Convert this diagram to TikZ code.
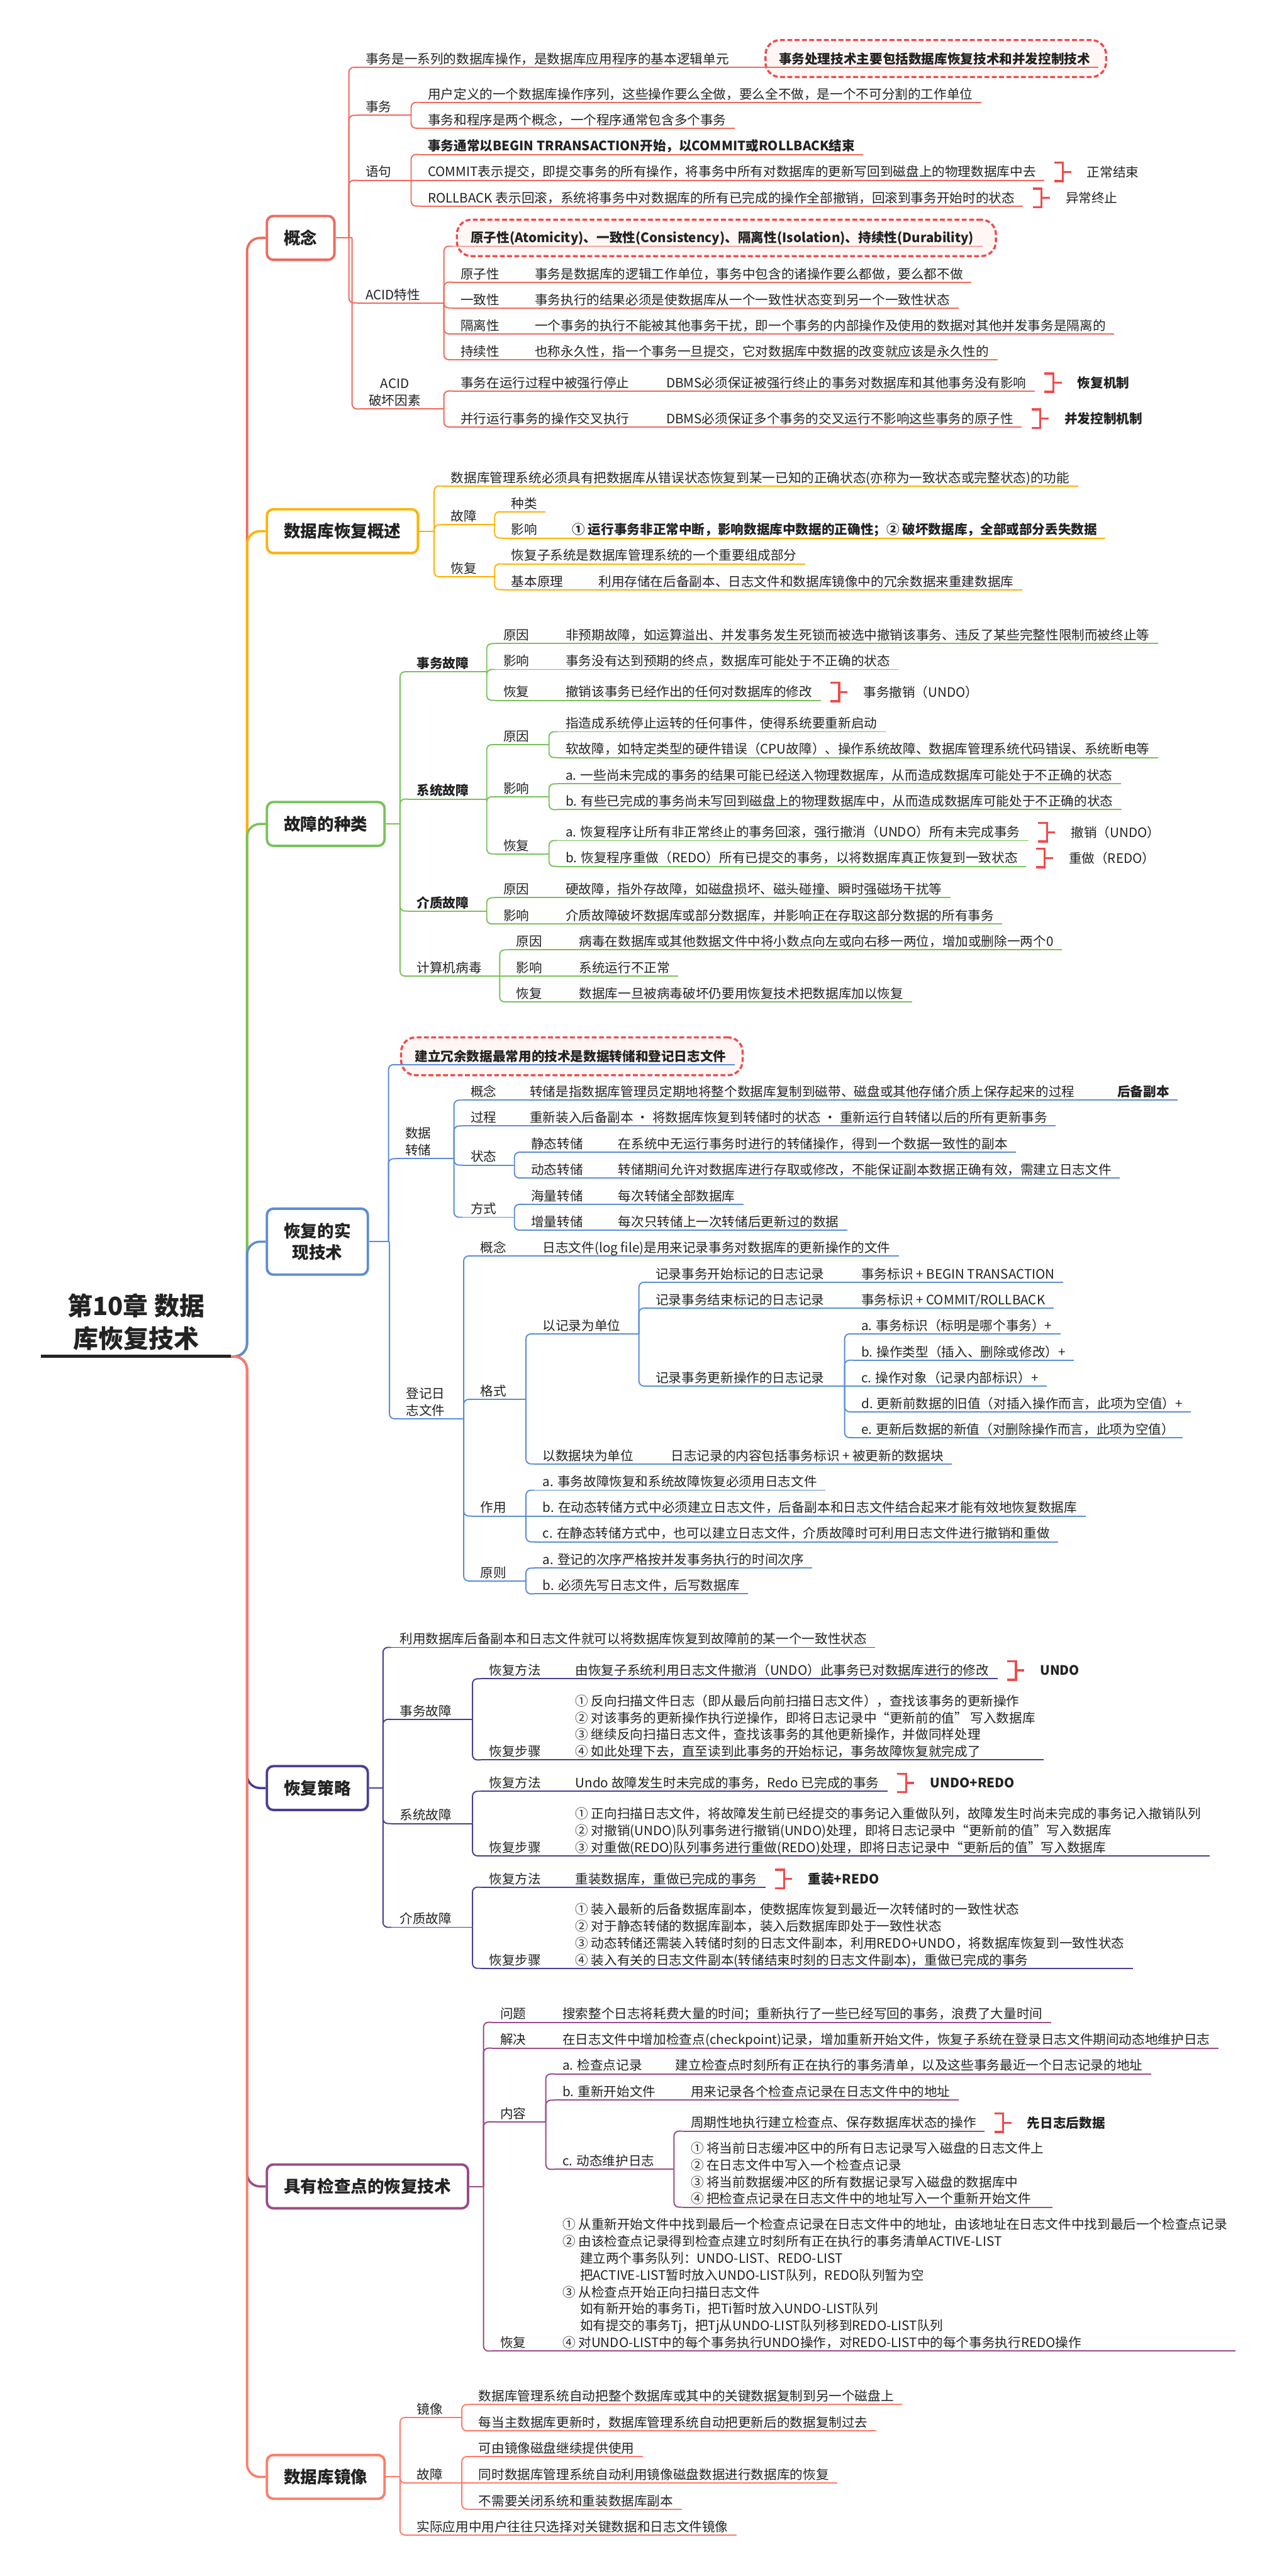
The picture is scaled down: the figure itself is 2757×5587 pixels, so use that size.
\documentclass[tikz,border=0pt]{standalone}
\usepackage{fontspec}
\setmainfont{Noto Sans CJK SC}
\usetikzlibrary{calc}
\definecolor{gai}{HTML}{F2685C}
\definecolor{gsh}{HTML}{FFB100}
\definecolor{zhong}{HTML}{77C35A}
\definecolor{shi}{HTML}{5A8DD8}
\definecolor{ce}{HTML}{4A3D95}
\definecolor{jian}{HTML}{9A4A8A}
\definecolor{jing}{HTML}{FF7B68}
\definecolor{mark}{HTML}{F2494A}
\definecolor{notefill}{HTML}{FFF6F5}
\definecolor{ink}{HTML}{222222}

\newcommand\branchto[3]{%
  \draw[draw=#1, line width=0.75pt] (#2) -- ($(#3.south west |- #2)+(-18,0)$);
  \draw[draw=#1, line width=0.75pt, rounded corners=3pt] ($(#3.south west |- #2)+(-18,0)$) |- (#3.south west);}
\newcommand\jointo[3]{\draw[draw=#1, line width=0.75pt] (#2.south east) -- (#3.south west);}
\newcommand\bracenote[3]{%
  \draw[brk] ($(#1.south east)+(21,-38)$) -- ++(19,0) -- ++(0,40) -- ++(-19,0);
  \node[blabel] (#2) at ($(#1.south east)+(58,-18)$) {#3};
  \draw[brk] ($(#1.south east)+(40,-18)$) -- (#2.west);}

\begin{document}
\begin{tikzpicture}[x=0.01cm, y=-0.01cm, font=\fontsize{8}{10.4}\selectfont, text=ink,
    item/.style={anchor=south west, xshift=-5pt, inner xsep=5pt, inner ysep=2pt, text depth=0pt, align=left,
      append after command={(\tikzlastnode.south west) edge[draw=#1, line width=0.75pt] (\tikzlastnode.south east)}},
    strong/.style={font=\fontsize{8}{10.4}\selectfont\bfseries},
    topic/.style={draw=#1, line width=1.5pt, rounded corners=4pt, fill=white, anchor=west, align=center,
      inner xsep=0.37cm, minimum height=0.95cm, font=\fontsize{10.3}{13}\selectfont\bfseries},
    note/.style={draw=mark, line width=1.3pt, dash pattern=on 3pt off 1.5pt, rounded corners=9pt, fill=notefill},
    brk/.style={draw=mark, line width=1.3pt},
    blabel/.style={anchor=west, inner xsep=9.6pt, inner ysep=0pt},
    rootnode/.style={anchor=south west, minimum width=4.1cm, align=center, inner ysep=5pt, text depth=0pt,
      font=\fontsize{15.5}{20}\selectfont\bfseries,
      append after command={(\tikzlastnode.south west) edge[draw=ink, line width=2pt] (\tikzlastnode.south east)}}]
  \fill[white] (0,0) rectangle (2757,5587);
  \useasboundingbox (0,0) rectangle (2757,5587);

  \node[rootnode] (root) at (89,2942) {第10章 数据\\库恢复技术};

  % 概念
  \node[topic=gai] (gn) at (576,516) {概念};
  \node[note, minimum width=7.38cm, minimum height=0.8cm] (gnb) at (2029,127) {};
  \node[item=gai] (gn1) at (792,146) {事务是一系列的数据库操作，是数据库应用程序的基本逻辑单元};
  \node[item=gai, strong] (gn1a) at (1688,146) {事务处理技术主要包括数据库恢复技术和并发控制技术};
  \node[item=gai] (gn2) at (792,250) {事务};
  \node[item=gai] (gn21) at (927,222) {用户定义的一个数据库操作序列，这些操作要么全做，要么全不做，是一个不可分割的工作单位};
  \node[item=gai] (gn22) at (927,278) {事务和程序是两个概念，一个程序通常包含多个事务};
  \node[item=gai] (gn3) at (792,391) {语句};
  \node[item=gai, strong] (gn31) at (927,335) {事务通常以BEGIN TRRANSACTION开始，以COMMIT或ROLLBACK结束};
  \node[item=gai] (gn32) at (927,391) {COMMIT表示提交，即提交事务的所有操作，将事务中所有对数据库的更新写回到磁盘上的物理数据库中去};
  \node[item=gai] (gn33) at (927,447) {ROLLBACK 表示回滚，系统将事务中对数据库的所有已完成的操作全部撤销，回滚到事务开始时的状态};
  \node[item=gai] (gn4) at (792,657) {ACID特性};
  \node[note, minimum width=11.68cm, minimum height=0.79cm] (gn4b) at (1575,516) {};
  \node[item=gai, strong] (gn41) at (998,534) {\hspace*{6.2pt}原子性(Atomicity)、一致性(Consistency)、隔离性(Isolation)、持续性(Durability)};
  \node[item=gai] (gn42) at (998,612) {原子性};
  \node[item=gai] (gn42a) at (1159,612) {事务是数据库的逻辑工作单位，事务中包含的诸操作要么都做，要么都不做};
  \node[item=gai] (gn43) at (998,668) {一致性};
  \node[item=gai] (gn43a) at (1159,668) {事务执行的结果必须是使数据库从一个一致性状态变到另一个一致性状态};
  \node[item=gai] (gn44) at (998,724) {隔离性};
  \node[item=gai] (gn44a) at (1159,724) {一个事务的执行不能被其他事务干扰，即一个事务的内部操作及使用的数据对其他并发事务是隔离的};
  \node[item=gai] (gn45) at (998,780) {持续性};
  \node[item=gai] (gn45a) at (1159,780) {也称永久性，指一个事务一旦提交，它对数据库中数据的改变就应该是永久性的};
  \node[item=gai, align=center] (gn5) at (799,887) {ACID\\破坏因素};
  \node[item=gai] (gn51) at (998,848) {事务在运行过程中被强行停止};
  \node[item=gai] (gn51a) at (1444,848) {DBMS必须保证被强行终止的事务对数据库和其他事务没有影响};
  \node[item=gai] (gn52) at (998,926) {并行运行事务的操作交叉执行};
  \node[item=gai] (gn52a) at (1444,926) {DBMS必须保证多个事务的交叉运行不影响这些事务的原子性};
  \foreach \c in {gn1,gn2,gn3,gn4,gn5} \branchto{gai}{gn.east}{\c};
  \jointo{gai}{gn1}{gn1a}
  \foreach \c in {gn21,gn22} \branchto{gai}{gn2.south east}{\c};
  \foreach \c in {gn31,gn33} \branchto{gai}{gn3.south east}{\c};
  \jointo{gai}{gn3}{gn32}
  \foreach \c in {gn41,gn42,gn43,gn44,gn45} \branchto{gai}{gn4.south east}{\c};
  \foreach \c in {gn51,gn52} \branchto{gai}{gn5.south east}{\c};
  \foreach \c in {gn42,gn43,gn44,gn45,gn51,gn52} \jointo{gai}{\c}{\c a};
  \bracenote{gn32}{gn32m}{正常结束}
  \bracenote{gn33}{gn33m}{异常终止}
  \bracenote{gn51a}{gn51m}{\bfseries 恢复机制}
  \bracenote{gn52a}{gn52m}{\bfseries 并发控制机制}

  % 数据库恢复概述
  \node[topic=gsh] (sn) at (576,1152) {数据库恢复概述};
  \node[item=gsh] (sn1) at (977,1054) {数据库管理系统必须具有把数据库从错误状态恢复到某一已知的正确状态(亦称为一致状态或完整状态)的功能};
  \node[item=gsh] (sn2) at (977,1138) {故障};
  \node[item=gsh] (sn21) at (1108,1110) {种类};
  \node[item=gsh] (sn22) at (1108,1167) {影响};
  \node[item=gsh, strong] (sn22a) at (1240,1167) {① 运行事务非正常中断，影响数据库中数据的正确性；② 破坏数据库，全部或部分丢失数据};
  \node[item=gsh] (sn3) at (977,1251) {恢复};
  \node[item=gsh] (sn31) at (1108,1223) {恢复子系统是数据库管理系统的一个重要组成部分};
  \node[item=gsh] (sn32) at (1108,1279) {基本原理};
  \node[item=gsh] (sn32a) at (1297,1279) {利用存储在后备副本、日志文件和数据库镜像中的冗余数据来重建数据库};
  \foreach \c in {sn1,sn2,sn3} \branchto{gsh}{sn.east}{\c};
  \foreach \c in {sn21,sn22} \branchto{gsh}{sn2.south east}{\c};
  \foreach \c in {sn31,sn32} \branchto{gsh}{sn3.south east}{\c};
  \foreach \c in {sn22,sn32} \jointo{gsh}{\c}{\c a};

  % 故障的种类
  \node[topic=zhong] (zn) at (576,1787) {故障的种类};
  \node[item=zhong, strong] (zn1) at (903,1457) {事务故障};
  \node[item=zhong] (zn11) at (1091,1396) {原因};
  \node[item=zhong] (zn11a) at (1226,1396) {非预期故障，如运算溢出、并发事务发生死锁而被选中撤销该事务、违反了某些完整性限制而被终止等};
  \node[item=zhong] (zn12) at (1091,1452) {影响};
  \node[item=zhong] (zn12a) at (1226,1452) {事务没有达到预期的终点，数据库可能处于不正确的状态};
  \node[item=zhong] (zn13) at (1091,1519) {恢复};
  \node[item=zhong] (zn13a) at (1226,1519) {撤销该事务已经作出的任何对数据库的修改};
  \node[item=zhong, strong] (zn2) at (903,1733) {系统故障};
  \node[item=zhong] (zn21) at (1091,1615) {原因};
  \node[item=zhong] (zn211) at (1226,1587) {指造成系统停止运转的任何事件，使得系统要重新启动};
  \node[item=zhong] (zn212) at (1226,1643) {软故障，如特定类型的硬件错误（CPU故障）、操作系统故障、数据库管理系统代码错误、系统断电等};
  \node[item=zhong] (zn22) at (1091,1728) {影响};
  \node[item=zhong] (zn221) at (1226,1700) {a. 一些尚未完成的事务的结果可能已经送入物理数据库，从而造成数据库可能处于不正确的状态};
  \node[item=zhong] (zn222) at (1226,1756) {b. 有些已完成的事务尚未写回到磁盘上的物理数据库中，从而造成数据库可能处于不正确的状态};
  \node[item=zhong] (zn23) at (1091,1852) {恢复};
  \node[item=zhong] (zn231) at (1226,1823) {a. 恢复程序让所有非正常终止的事务回滚，强行撤消（UNDO）所有未完成事务};
  \node[item=zhong] (zn232) at (1226,1879) {b. 恢复程序重做（REDO）所有已提交的事务，以将数据库真正恢复到一致状态};
  \node[item=zhong, strong] (zn3) at (903,1976) {介质故障};
  \node[item=zhong] (zn31) at (1091,1947) {原因};
  \node[item=zhong] (zn31a) at (1226,1947) {硬故障，指外存故障，如磁盘损坏、磁头碰撞、瞬时强磁场干扰等};
  \node[item=zhong] (zn32) at (1091,2004) {影响};
  \node[item=zhong] (zn32a) at (1226,2004) {介质故障破坏数据库或部分数据库，并影响正在存取这部分数据的所有事务};
  \node[item=zhong] (zn4) at (903,2117) {计算机病毒};
  \node[item=zhong] (zn41) at (1119,2060) {原因};
  \node[item=zhong] (zn41a) at (1255,2060) {病毒在数据库或其他数据文件中将小数点向左或向右移一两位，增加或删除一两个0};
  \node[item=zhong] (zn42) at (1119,2117) {影响};
  \node[item=zhong] (zn42a) at (1255,2117) {系统运行不正常};
  \node[item=zhong] (zn43) at (1119,2173) {恢复};
  \node[item=zhong] (zn43a) at (1255,2173) {数据库一旦被病毒破坏仍要用恢复技术把数据库加以恢复};
  \foreach \c in {zn1,zn2,zn3,zn4} \branchto{zhong}{zn.east}{\c};
  \foreach \c in {zn11,zn12,zn13} \branchto{zhong}{zn1.south east}{\c};
  \foreach \c in {zn21,zn22,zn23} \branchto{zhong}{zn2.south east}{\c};
  \foreach \c in {zn211,zn212} \branchto{zhong}{zn21.south east}{\c};
  \foreach \c in {zn221,zn222} \branchto{zhong}{zn22.south east}{\c};
  \foreach \c in {zn231,zn232} \branchto{zhong}{zn23.south east}{\c};
  \foreach \c in {zn31,zn32} \branchto{zhong}{zn3.south east}{\c};
  \foreach \c in {zn41,zn43} \branchto{zhong}{zn4.south east}{\c};
  \jointo{zhong}{zn4}{zn42}
  \foreach \c in {zn11,zn12,zn13,zn31,zn32,zn41,zn42,zn43} \jointo{zhong}{\c}{\c a};
  \bracenote{zn13a}{zn13m}{事务撤销（UNDO）}
  \bracenote{zn231}{zn231m}{撤销（UNDO）}
  \bracenote{zn232}{zn232m}{重做（REDO）}

  % 恢复的实现技术
  \node[topic=shi, minimum height=1.43cm] (tn) at (576,2693) {恢复的实\\现技术};
  \node[note, minimum width=7.4cm, minimum height=0.82cm] (tnb) at (1240,2291) {};
  \node[item=shi, strong] (tn1) at (878,2309) {\hspace*{5.9pt}建立冗余数据最常用的技术是数据转储和登记日志文件};
  \node[item=shi, align=center] (tn2) at (878,2513) {数据\\转储};
  \node[item=shi] (tn21) at (1020,2386) {概念};
  \node[item=shi] (tn21a) at (1148,2386) {转储是指数据库管理员定期地将整个数据库复制到磁带、磁盘或其他存储介质上保存起来的过程};
  \node[item=shi, strong] (tn21b) at (2422,2386) {后备副本};
  \node[item=shi] (tn22) at (1020,2442) {过程};
  \node[item=shi] (tn22a) at (1148,2442) {重新装入后备副本 · 将数据库恢复到转储时的状态 · 重新运行自转储以后的所有更新事务};
  \node[item=shi] (tn23) at (1020,2527) {状态};
  \node[item=shi] (tn231) at (1151,2499) {静态转储};
  \node[item=shi] (tn231a) at (1340,2499) {在系统中无运行事务时进行的转储操作，得到一个数据一致性的副本};
  \node[item=shi] (tn232) at (1151,2555) {动态转储};
  \node[item=shi] (tn232a) at (1340,2555) {转储期间允许对数据库进行存取或修改，不能保证副本数据正确有效，需建立日志文件};
  \node[item=shi] (tn24) at (1020,2640) {方式};
  \node[item=shi] (tn241) at (1151,2612) {海量转储};
  \node[item=shi] (tn241a) at (1340,2612) {每次转储全部数据库};
  \node[item=shi] (tn242) at (1151,2668) {增量转储};
  \node[item=shi] (tn242a) at (1340,2668) {每次只转储上一次转储后更新过的数据};
  \node[item=shi, align=center] (tn3) at (880,3077) {登记日\\志文件};
  \node[item=shi] (tn31) at (1041,2724) {概念};
  \node[item=shi] (tn31a) at (1176,2724) {日志文件(log file)是用来记录事务对数据库的更新操作的文件};
  \node[item=shi] (tn32) at (1041,3035) {格式};
  \node[item=shi] (tn321) at (1176,2893) {以记录为单位};
  \node[item=shi] (tn3211) at (1421,2781) {记录事务开始标记的日志记录};
  \node[item=shi] (tn3211a) at (1867,2781) {事务标识 + BEGIN TRANSACTION};
  \node[item=shi] (tn3212) at (1421,2837) {记录事务结束标记的日志记录};
  \node[item=shi] (tn3212a) at (1867,2837) {事务标识 + COMMIT/ROLLBACK};
  \node[item=shi] (tn3213) at (1421,3006) {记录事务更新操作的日志记录};
  \node[item=shi] (tnu1) at (1867,2893) {a. 事务标识（标明是哪个事务）+};
  \node[item=shi] (tnu2) at (1867,2950) {b. 操作类型（插入、删除或修改）+};
  \node[item=shi] (tnu3) at (1867,3006) {c. 操作对象（记录内部标识）+};
  \node[item=shi] (tnu4) at (1867,3062) {d. 更新前数据的旧值（对插入操作而言，此项为空值）+};
  \node[item=shi] (tnu5) at (1867,3118) {e. 更新后数据的新值（对删除操作而言，此项为空值）};
  \node[item=shi] (tn322) at (1176,3175) {以数据块为单位};
  \node[item=shi] (tn322a) at (1454,3175) {日志记录的内容包括事务标识 + 被更新的数据块};
  \node[item=shi] (tn33) at (1041,3288) {作用};
  \node[item=shi] (tn331) at (1176,3232) {a. 事务故障恢复和系统故障恢复必须用日志文件};
  \node[item=shi] (tn332) at (1176,3288) {b. 在动态转储方式中必须建立日志文件，后备副本和日志文件结合起来才能有效地恢复数据库};
  \node[item=shi] (tn333) at (1176,3344) {c. 在静态转储方式中，也可以建立日志文件，介质故障时可利用日志文件进行撤销和重做};
  \node[item=shi] (tn34) at (1041,3429) {原则};
  \node[item=shi] (tn341) at (1176,3401) {a. 登记的次序严格按并发事务执行的时间次序};
  \node[item=shi] (tn342) at (1176,3457) {b. 必须先写日志文件，后写数据库};
  \foreach \c in {tn1,tn2,tn3} \branchto{shi}{tn.east}{\c};
  \foreach \c in {tn21,tn22,tn23,tn24} \branchto{shi}{tn2.south east}{\c};
  \foreach \c in {tn231,tn232} \branchto{shi}{tn23.south east}{\c};
  \foreach \c in {tn241,tn242} \branchto{shi}{tn24.south east}{\c};
  \foreach \c in {tn31,tn32,tn33,tn34} \branchto{shi}{tn3.south east}{\c};
  \foreach \c in {tn321,tn322} \branchto{shi}{tn32.south east}{\c};
  \foreach \c in {tn3211,tn3212,tn3213} \branchto{shi}{tn321.south east}{\c};
  \foreach \c in {tnu1,tnu2,tnu4,tnu5} \branchto{shi}{tn3213.south east}{\c};
  \jointo{shi}{tn3213}{tnu3}
  \foreach \c in {tn331,tn333} \branchto{shi}{tn33.south east}{\c};
  \jointo{shi}{tn33}{tn332}
  \foreach \c in {tn341,tn342} \branchto{shi}{tn34.south east}{\c};
  \foreach \c in {tn21,tn22,tn231,tn232,tn241,tn242,tn31,tn3211,tn3212,tn322} \jointo{shi}{\c}{\c a};
  \jointo{shi}{tn21a}{tn21b}

  % 恢复策略
  \node[topic=ce] (cn) at (576,3878) {恢复策略};
  \node[item=ce] (cn1) at (866,3573) {利用数据库后备副本和日志文件就可以将数据库恢复到故障前的某一个一致性状态};
  \node[item=ce] (cn2) at (866,3729) {事务故障};
  \node[item=ce] (cn21) at (1060,3641) {恢复方法};
  \node[item=ce] (cn21a) at (1247,3641) {由恢复子系统利用日志文件撤消（UNDO）此事务已对数据库进行的修改};
  \node[item=ce] (cn22) at (1060,3817) {恢复步骤};
  \node[item=ce] (cn22a) at (1247,3817) {① 反向扫描文件日志（即从最后向前扫描日志文件），查找该事务的更新操作\\
    ② 对该事务的更新操作执行逆操作，即将日志记录中“更新前的值” 写入数据库\\
    ③ 继续反向扫描日志文件，查找该事务的其他更新操作，并做同样处理\\
    ④ 如此处理下去，直至读到此事务的开始标记，事务故障恢复就完成了};
  \node[item=ce] (cn3) at (866,3955) {系统故障};
  \node[item=ce] (cn31) at (1060,3885) {恢复方法};
  \node[item=ce] (cn31a) at (1247,3885) {Undo 故障发生时未完成的事务，Redo 已完成的事务};
  \node[item=ce] (cn32) at (1060,4025) {恢复步骤};
  \node[item=ce] (cn32a) at (1247,4025) {① 正向扫描日志文件，将故障发生前已经提交的事务记入重做队列，故障发生时尚未完成的事务记入撤销队列\\
    ② 对撤销(UNDO)队列事务进行撤销(UNDO)处理，即将日志记录中“更新前的值”写入数据库\\
    ③ 对重做(REDO)队列事务进行重做(REDO)处理，即将日志记录中“更新后的值”写入数据库};
  \node[item=ce] (cn4) at (866,4180) {介质故障};
  \node[item=ce] (cn41) at (1060,4093) {恢复方法};
  \node[item=ce] (cn41a) at (1247,4093) {重装数据库，重做已完成的事务};
  \node[item=ce] (cn42) at (1060,4269) {恢复步骤};
  \node[item=ce] (cn42a) at (1247,4269) {① 装入最新的后备数据库副本，使数据库恢复到最近一次转储时的一致性状态\\
    ② 对于静态转储的数据库副本，装入后数据库即处于一致性状态\\
    ③ 动态转储还需装入转储时刻的日志文件副本，利用REDO+UNDO，将数据库恢复到一致性状态\\
    ④ 装入有关的日志文件副本(转储结束时刻的日志文件副本)，重做已完成的事务};
  \foreach \c in {cn1,cn2,cn3,cn4} \branchto{ce}{cn.east}{\c};
  \foreach \c in {cn21,cn22} \branchto{ce}{cn2.south east}{\c};
  \foreach \c in {cn31,cn32} \branchto{ce}{cn3.south east}{\c};
  \foreach \c in {cn41,cn42} \branchto{ce}{cn4.south east}{\c};
  \foreach \c in {cn21,cn22,cn31,cn32,cn41,cn42} \jointo{ce}{\c}{\c a};
  \bracenote{cn21a}{cn21m}{\bfseries UNDO}
  \bracenote{cn31a}{cn31m}{\bfseries UNDO+REDO}
  \bracenote{cn41a}{cn41m}{\bfseries 重装+REDO}

  % 具有检查点的恢复技术
  \node[topic=jian] (jn) at (576,4742) {具有检查点的恢复技术};
  \node[item=jian] (jn1) at (1084,4386) {问题};
  \node[item=jian] (jn1a) at (1219,4386) {搜索整个日志将耗费大量的时间；重新执行了一些已经写回的事务，浪费了大量时间};
  \node[item=jian] (jn2) at (1084,4442) {解决};
  \node[item=jian] (jn2a) at (1219,4442) {在日志文件中增加检查点(checkpoint)记录，增加重新开始文件，恢复子系统在登录日志文件期间动态地维护日志};
  \node[item=jian] (jn3) at (1084,4602) {内容};
  \node[item=jian] (jn31) at (1219,4498) {a. 检查点记录};
  \node[item=jian] (jn31a) at (1464,4498) {建立检查点时刻所有正在执行的事务清单，以及这些事务最近一个日志记录的地址};
  \node[item=jian] (jn32) at (1219,4555) {b. 重新开始文件};
  \node[item=jian] (jn32a) at (1497,4555) {用来记录各个检查点记录在日志文件中的地址};
  \node[item=jian] (jn33) at (1219,4705) {c. 动态维护日志};
  \node[item=jian] (jn331) at (1497,4622) {周期性地执行建立检查点、保存数据库状态的操作};
  \node[item=jian] (jn332) at (1497,4787) {① 将当前日志缓冲区中的所有日志记录写入磁盘的日志文件上\\
    ② 在日志文件中写入一个检查点记录\\
    ③ 将当前数据缓冲区的所有数据记录写入磁盘的数据库中\\
    ④ 把检查点记录在日志文件中的地址写入一个重新开始文件};
  \node[item=jian] (jn4) at (1084,5099) {恢复};
  \node[item=jian] (jn4a) at (1219,5099) {① 从重新开始文件中找到最后一个检查点记录在日志文件中的地址，由该地址在日志文件中找到最后一个检查点记录\\
    ② 由该检查点记录得到检查点建立时刻所有正在执行的事务清单ACTIVE-LIST\\
    \hspace*{1.35em}建立两个事务队列：UNDO-LIST、REDO-LIST\\
    \hspace*{1.35em}把ACTIVE-LIST暂时放入UNDO-LIST队列，REDO队列暂为空\\
    ③ 从检查点开始正向扫描日志文件\\
    \hspace*{1.35em}如有新开始的事务Ti，把Ti暂时放入UNDO-LIST队列\\
    \hspace*{1.35em}如有提交的事务Tj，把Tj从UNDO-LIST队列移到REDO-LIST队列\\
    ④ 对UNDO-LIST中的每个事务执行UNDO操作，对REDO-LIST中的每个事务执行REDO操作};
  \foreach \c in {jn1,jn2,jn3,jn4} \branchto{jian}{jn.east}{\c};
  \foreach \c in {jn31,jn32,jn33} \branchto{jian}{jn3.south east}{\c};
  \foreach \c in {jn331,jn332} \branchto{jian}{jn33.south east}{\c};
  \foreach \c in {jn1,jn2,jn31,jn32,jn4} \jointo{jian}{\c}{\c a};
  \bracenote{jn331}{jn331m}{\bfseries 先日志后数据}

  % 数据库镜像
  \node[topic=jing] (mn) at (576,5372) {数据库镜像};
  \node[item=jing] (mn1) at (903,5243) {镜像};
  \node[item=jing] (mn11) at (1037,5215) {数据库管理系统自动把整个数据库或其中的关键数据复制到另一个磁盘上};
  \node[item=jing] (mn12) at (1037,5272) {每当主数据库更新时，数据库管理系统自动把更新后的数据复制过去};
  \node[item=jing] (mn2) at (903,5385) {故障};
  \node[item=jing] (mn21) at (1037,5328) {可由镜像磁盘继续提供使用};
  \node[item=jing] (mn22) at (1037,5385) {同时数据库管理系统自动利用镜像磁盘数据进行数据库的恢复};
  \node[item=jing] (mn23) at (1037,5442) {不需要关闭系统和重装数据库副本};
  \node[item=jing] (mn3) at (903,5498) {实际应用中用户往往只选择对关键数据和日志文件镜像};
  \foreach \c in {mn1,mn2,mn3} \branchto{jing}{mn.east}{\c};
  \foreach \c in {mn11,mn12} \branchto{jing}{mn1.south east}{\c};
  \foreach \c in {mn21,mn23} \branchto{jing}{mn2.south east}{\c};
  \jointo{jing}{mn2}{mn22}

  \foreach \b/\c in {gn/gai,sn/gsh,zn/zhong,tn/shi,cn/ce,jn/jian,mn/jing}
    \draw[draw=\c, line width=1.4pt, rounded corners=8pt] (root.south east) -- ++(35,0) |- (\b.west);
\end{tikzpicture}
\end{document}
